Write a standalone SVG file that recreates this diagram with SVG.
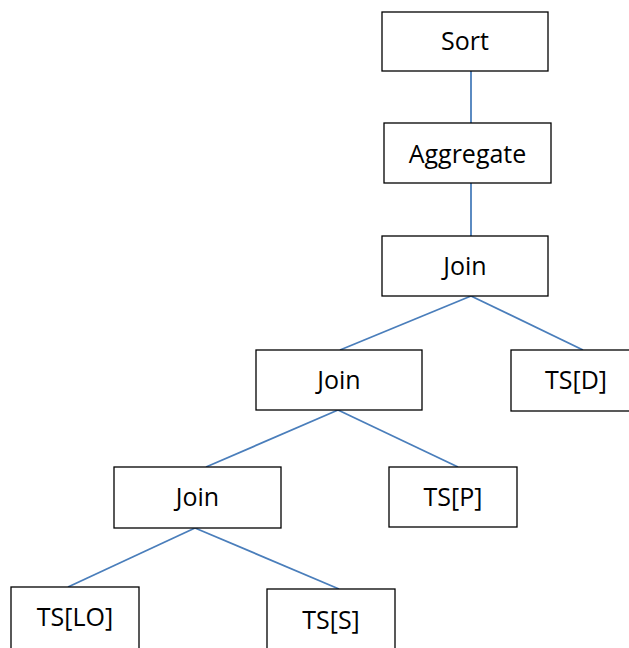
<svg xmlns="http://www.w3.org/2000/svg" width="629" height="648" viewBox="0 0 629 648">
<style>
.box rect{fill:#fff;stroke:#000;stroke-width:1.3}
.box text{font-family:"Open Sans","Liberation Sans",Arial,sans-serif;font-size:25px;fill:#000;text-anchor:middle}
#edges line{stroke:#4a7ebb;stroke-width:1.8}
</style>
<rect width="629" height="648" fill="#fff"/>
<g id="edges">
<line x1="471" y1="71" x2="471" y2="123"/>
<line x1="471" y1="183" x2="471" y2="236"/>
<line x1="471" y1="296" x2="340" y2="350"/>
<line x1="471" y1="296" x2="583" y2="350"/>
<line x1="338" y1="410" x2="206" y2="467"/>
<line x1="338" y1="410" x2="458" y2="467"/>
<line x1="195" y1="528" x2="68" y2="587"/>
<line x1="195" y1="528" x2="339" y2="589"/>
</g>
<g id="sort" class="box"><rect x="382" y="12" width="166" height="59"/><text x="465" y="50">Sort</text></g>
<g id="aggregate" class="box"><rect x="384" y="123" width="167" height="60"/><text x="467.5" y="163">Aggregate</text></g>
<g id="join1" class="box"><rect x="382" y="236" width="166" height="60"/><text x="465" y="275">Join</text></g>
<g id="join2" class="box"><rect x="256" y="350" width="166" height="60"/><text x="339" y="389">Join</text></g>
<g id="tsd" class="box"><rect x="511" y="350" width="128" height="61"/><text x="576" y="389">TS[D]</text></g>
<g id="join3" class="box"><rect x="114" y="467" width="167" height="61"/><text x="197.5" y="506">Join</text></g>
<g id="tsp" class="box"><rect x="389" y="467" width="128" height="60"/><text x="453" y="506">TS[P]</text></g>
<g id="tslo" class="box"><rect x="11" y="587" width="128" height="70"/><text x="75" y="626">TS[LO]</text></g>
<g id="tss" class="box"><rect x="267" y="589" width="128" height="70"/><text x="331" y="629">TS[S]</text></g>
</svg>
